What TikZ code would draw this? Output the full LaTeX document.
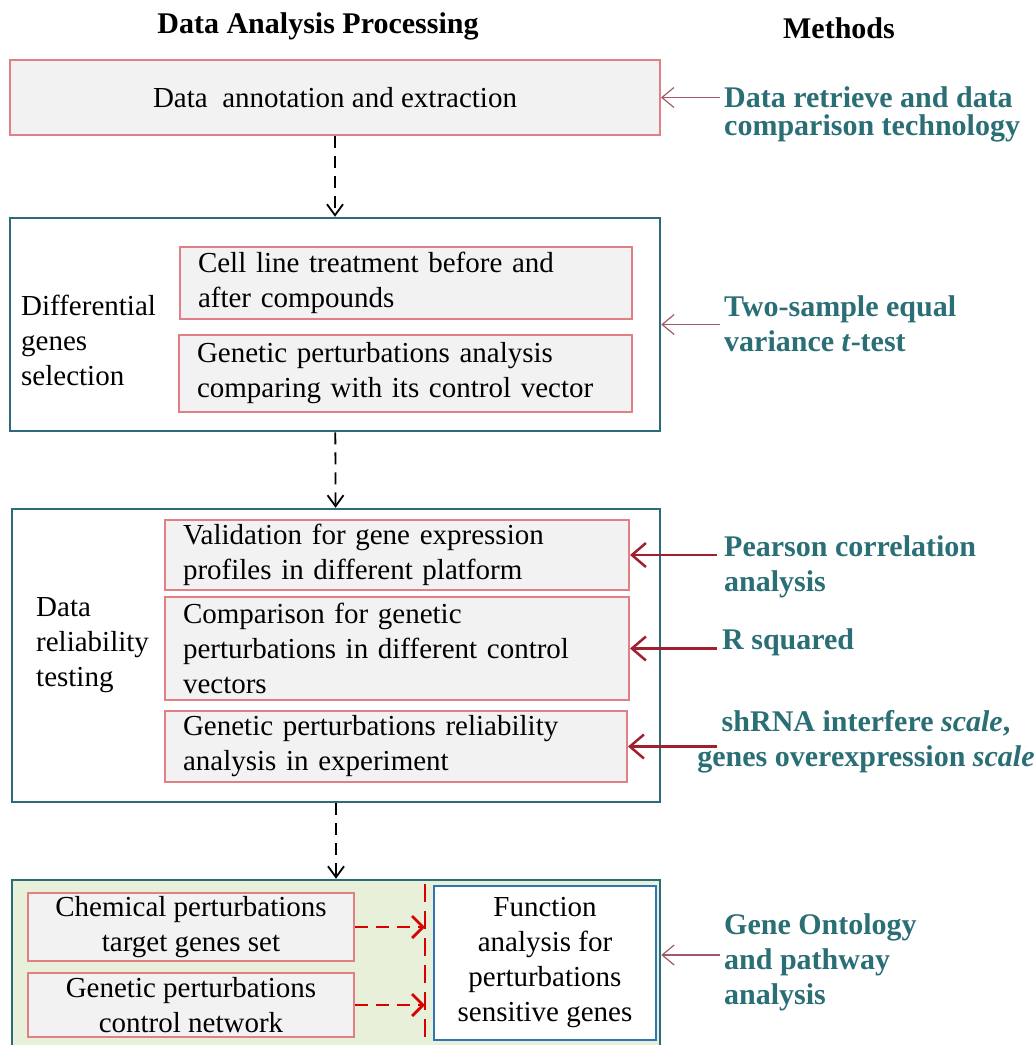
\documentclass[tikz,border=0pt]{standalone}
\usepackage{fontspec}
\setmainfont{Liberation Serif}
\usepackage{xcolor}
\usetikzlibrary{positioning,arrows.meta,calc}

\definecolor{boxred}{RGB}{224,128,132}
\definecolor{boxteal}{RGB}{44,108,122}
\definecolor{methteal}{RGB}{42,110,118}
\definecolor{thinrose}{RGB}{160,90,105}
\definecolor{darkred}{RGB}{160,32,48}
\definecolor{palegreen}{RGB}{233,240,217}
\definecolor{funcblue}{RGB}{46,117,182}

\tikzset{
  bodyfont/.style={font=\fontsize{29}{35}\selectfont},
  headtext/.style={font=\bfseries\fontsize{30}{35}\selectfont},
  methtext/.style={font=\bfseries\fontsize{30}{35}\selectfont, text=methteal, align=left, inner sep=0pt},
  pinkbox/.style={draw=boxred, fill=gray!10, line width=2pt, bodyfont, inner ysep=0pt},
  leftbox/.style={pinkbox, align=left, inner xsep=18pt},
  tealbox/.style={draw=boxteal, line width=2.5pt},
  steplabel/.style={bodyfont, align=left, anchor=west, inner sep=0pt},
  thinarrow/.style={draw=thinrose, line width=1.2pt, -{Straight Barb[length=12pt,width=20pt]}},
  darkarrow/.style={draw=darkred, line width=2.5pt, -{Straight Barb[length=14pt,width=24pt]}},
  flowarrow/.style={line width=1.8pt, dash pattern=on 12pt off 8pt, -{Straight Barb[length=11pt,width=16pt]}},
  redflow/.style={draw=red!85!black, line width=2.8pt, dash pattern=on 13pt off 8pt, -{Straight Barb[length=11pt,width=22pt]}}
}

\begin{document}
\begin{tikzpicture}[x=1pt,y=-1pt]
\useasboundingbox (0,0) rectangle (1036,1045);
\clip (0,0) rectangle (1036,1045);

% column headings
\node[headtext] (hproc) at (318,26) {Data Analysis Processing};
\node[headtext] (hmeth) at (839,28) {Methods};

% step 1
\node[pinkbox, minimum width=650pt, minimum height=75pt] (extract) at (335,97.5) {Data\ \ annotation and extraction};
\node[methtext, anchor=west, font=\bfseries\fontsize{30}{28}\selectfont] (mretrieve) at (724,114) {Data retrieve and data\\comparison technology};
\draw[thinarrow] (extract.east -| 720,0) -- (extract.east);

% step 2
\node[tealbox, minimum width=650pt, minimum height=213pt] (diffsel) at (335,324.5) {};
\node[steplabel] (difflabel) at (21,340) {Differential\\genes\\selection};
\node[leftbox, text width=416pt, minimum height=72pt] (cellline) at (406,283) {Cell line treatment before and\\after compounds};
\node[leftbox, text width=417pt, minimum height=77pt] (gencomp) at (405.5,373.5) {Genetic perturbations analysis\\comparing with its control vector};
\node[methtext, anchor=west] (mtwosample) at (724,324) {Two-sample equal\\variance \textit{t}-test};
\draw[thinarrow] (diffsel.east -| 720,0) -- (diffsel.east);

% step 3
\node[tealbox, minimum width=648pt, minimum height=293pt] (reliab) at (336,655.5) {};
\node[steplabel] (rellabel) at (36,645) {Data\\reliability\\testing};
\node[leftbox, text width=428pt, minimum height=70pt] (validate) at (397,555) {Validation for gene expression\\profiles in different platform};
\node[leftbox, text width=428pt, minimum height=103pt] (compare) at (397,648.5) {Comparison for genetic\\perturbations in different control\\vectors};
\node[leftbox, text width=426pt, minimum height=71pt] (experim) at (396,746.5) {Genetic perturbations reliability\\analysis in experiment};
\node[methtext, anchor=west] (mpearson) at (724,567) {Pearson correlation\\analysis};
\node[methtext, anchor=west] (mrsquared) at (722,642) {R squared};
\node[methtext, align=center] (mshrna) at (866,742) {shRNA interfere \textit{scale},\\genes overexpression \textit{scale}};
\draw[darkarrow] (validate.east -| 717,0) -- (validate.east);
\draw[darkarrow] (compare.east -| 717,0) -- (compare.east);
\draw[darkarrow] (experim.east -| 717,0) -- (experim.east);

% step 4
\node[tealbox, fill=palegreen, minimum width=648pt, minimum height=174pt] (pathbox) at (336,967) {};
\node[pinkbox, align=center, minimum width=326pt, minimum height=68pt] (chemset) at (191,927) {Chemical perturbations\\target genes set};
\node[pinkbox, align=center, minimum width=326pt, minimum height=64pt] (gennet) at (191,1005) {Genetic perturbations\\control network};
\node[draw=funcblue, fill=white, line width=2.5pt, bodyfont, align=center, minimum width=222pt, minimum height=154pt, inner sep=0pt] (function) at (545,963) {Function\\analysis for\\perturbations\\sensitive genes};
\coordinate (bartop) at (425,884);
\coordinate (barbot) at (425,1052);
\draw[red!85!black, line width=2pt, dash pattern=on 18pt off 9pt] (bartop) -- (barbot);
\draw[redflow] (chemset.east) -- (chemset.east -| bartop);
\draw[redflow] (gennet.east) -- (gennet.east -| bartop);
\node[methtext, anchor=west] (mgo) at (724,962) {Gene Ontology\\and pathway\\analysis};
\draw[thinarrow] (720,955) -- (720,955 -| pathbox.east);

% flow between steps
\draw[flowarrow] (extract) -- (diffsel);
\draw[flowarrow] (diffsel) -- (reliab);
\draw[flowarrow] (reliab) -- (pathbox);
\end{tikzpicture}
\end{document}
